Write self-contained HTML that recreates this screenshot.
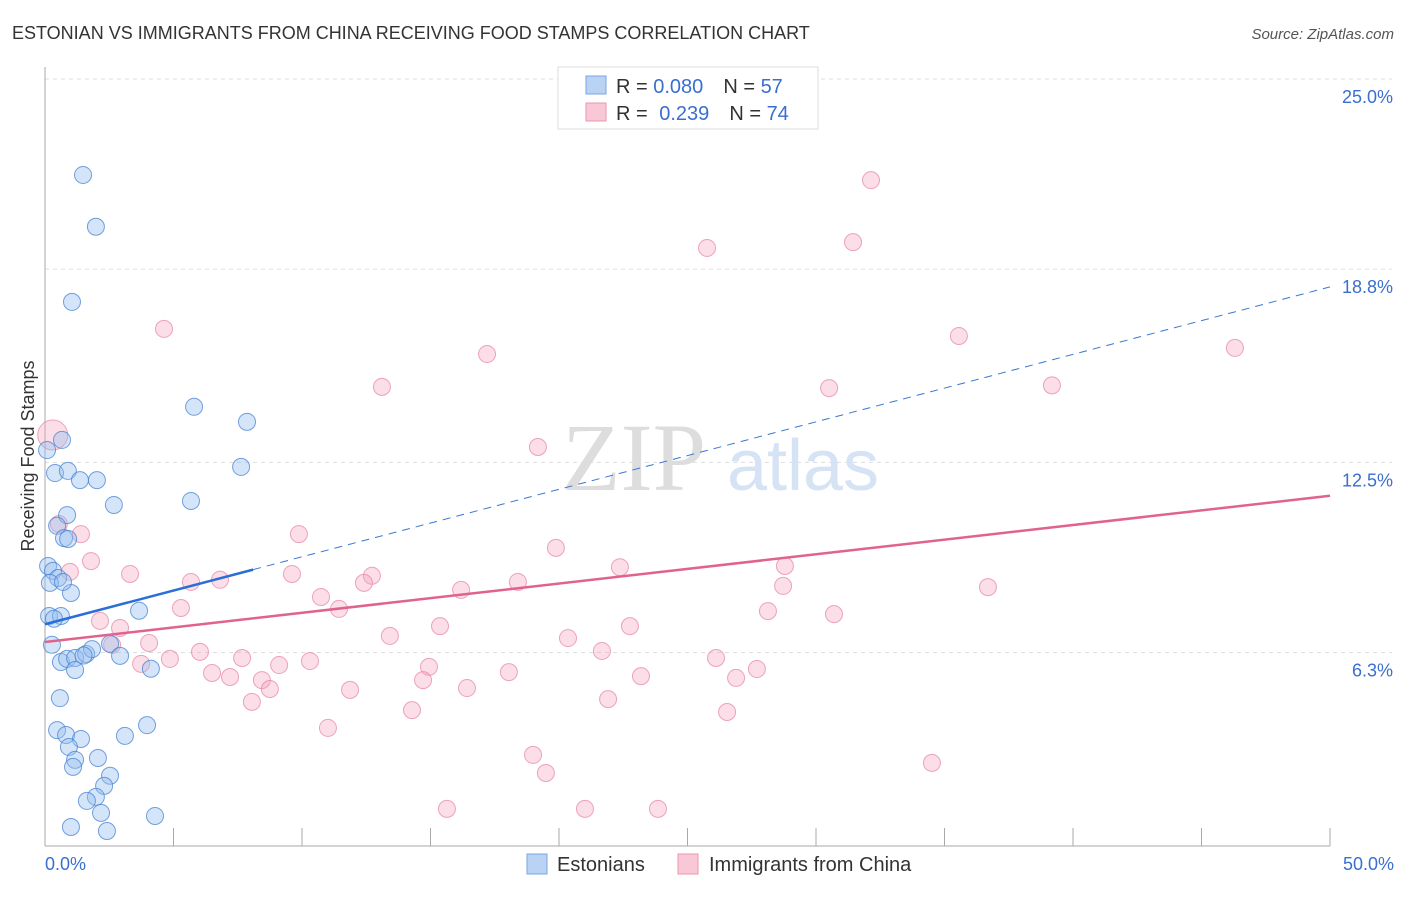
<!DOCTYPE html>
<html><head><meta charset="utf-8"><style>
body{margin:0;background:#fff;font-family:"Liberation Sans",sans-serif;}
svg text{font-family:"Liberation Sans",sans-serif;}
</style></head><body>
<svg id="chart" width="1406" height="892" xmlns="http://www.w3.org/2000/svg">
<text x="12" y="39" font-size="18" fill="#333">ESTONIAN VS IMMIGRANTS FROM CHINA RECEIVING FOOD STAMPS CORRELATION CHART</text>
<text x="1394" y="39" font-size="15" fill="#555" text-anchor="end" font-style="italic">Source: ZipAtlas.com</text>
<g id="grid"></g>
<g>
<text x="634" y="490" font-size="96" fill="#ddd" text-anchor="middle" font-family="Liberation Serif" style="font-family:'Liberation Serif',serif">ZIP</text>
<text x="803" y="490" font-size="72" fill="#d5e3f5" text-anchor="middle">atlas</text>
</g>
<g id="marks"></g>
<text transform="translate(34,456) rotate(-90)" font-size="18" fill="#333" text-anchor="middle">Receiving Food Stamps</text>
<g>
<rect x="558" y="67" width="260" height="62" fill="#fff" stroke="#ddd"/>
<rect x="586" y="76" width="20" height="18" fill="#b9d3f5" stroke="#7aa6e0"/>
<text x="616" y="93" font-size="20" fill="#333">R = <tspan fill="#3a6fd0">0.080</tspan><tspan dx="20">N = </tspan><tspan fill="#3a6fd0">57</tspan></text>
<rect x="586" y="103" width="20" height="18" fill="#f9c8d6" stroke="#e896ae"/>
<text x="616" y="120" font-size="20" fill="#333">R = <tspan dx="6" fill="#3a6fd0">0.239</tspan><tspan dx="20">N = </tspan><tspan fill="#3a6fd0">74</tspan></text>
</g>
<g>
<rect x="527" y="854" width="20" height="20" fill="#b9d3f5" stroke="#7aa6e0"/>
<text x="557" y="871" font-size="20" fill="#333">Estonians</text>
<rect x="678" y="854" width="20" height="20" fill="#f9c8d6" stroke="#e896ae"/>
<text x="709" y="871" font-size="20" fill="#333">Immigrants from China</text>
</g>
</svg>
<script>
const yTicks=[25.0,18.8,12.5,6.3];
const yTickLabels=["25.0%","18.8%","12.5%","6.3%"];
const xTickLabels=["0.0%","50.0%"];
const blueX=[1.48,1.98,1.05,5.80,7.86,7.63,0.66,0.08,0.39,0.89,1.36,2.02,2.68,5.68,0.86,0.47,0.74,0.12,0.31,0.51,0.19,1.01,3.66,0.16,0.62,0.27,0.62,0.86,1.17,1.60,1.83,2.53,2.92,4.12,1.17,0.58,0.47,0.82,1.40,0.93,1.17,1.09,2.06,3.11,3.97,2.53,2.30,1.98,1.63,2.18,1.01,2.41,4.28,0.90,0.70,0.35,1.50];
const blueY=[21.87,20.18,17.73,14.31,13.82,12.35,13.23,12.90,12.15,12.22,11.92,11.92,11.11,11.24,10.78,10.43,10.03,9.12,8.96,8.73,8.57,8.24,7.66,7.49,7.49,6.55,5.99,6.09,6.12,6.25,6.41,6.58,6.19,5.77,5.73,4.81,3.77,3.61,3.48,3.22,2.80,2.57,2.86,3.58,3.93,2.28,1.95,1.59,1.46,1.07,0.61,0.48,0.97,10.00,8.60,7.40,6.20];
const pinkX=[4.63,17.20,13.11,19.18,25.76,31.44,32.14,35.56,46.30,39.18,30.51,9.88,19.88,22.37,28.79,36.69,28.72,30.70,28.13,22.76,15.37,20.35,13.42,16.19,18.40,12.72,12.41,9.61,10.74,11.44,6.81,5.68,5.29,3.31,1.79,1.40,0.97,0.54,2.14,2.92,4.05,2.61,3.74,4.86,6.03,7.67,9.11,10.31,6.50,7.20,8.44,8.75,8.05,11.87,14.94,14.71,16.42,18.05,21.67,23.19,26.11,26.89,27.70,21.91,14.28,11.01,26.54,18.99,19.49,15.64,21.01,23.85,34.51,0.30];
const pinkY=[16.85,16.03,14.96,13.00,19.49,19.68,21.70,16.62,16.23,15.01,14.92,10.16,9.71,9.08,9.12,8.43,8.47,7.55,7.65,7.16,7.16,6.77,6.84,8.34,8.60,8.80,8.57,8.86,8.11,7.72,8.67,8.60,7.75,8.86,9.28,10.16,8.93,10.49,7.33,7.10,6.61,6.55,5.93,6.09,6.32,6.12,5.89,6.02,5.63,5.50,5.40,5.11,4.69,5.08,5.83,5.40,5.14,5.66,6.35,5.53,6.12,5.47,5.76,4.78,4.42,3.84,4.36,2.96,2.37,1.20,1.20,1.20,2.70,13.39];
const blueTrend=[7.22,18.22];
const pinkTrend=[6.64,11.41];
const blueSolidEnd=8.1;

const NS="http://www.w3.org/2000/svg";
const X0=45,X1=1330,Y0=845.7,PPY=30.67;
const sx=v=>X0+(X1-X0)*v/50;
const sy=v=>Y0-v*PPY;
function mk(tag,attrs,parent){const e=document.createElementNS(NS,tag);for(const k in attrs)e.setAttribute(k,attrs[k]);parent.appendChild(e);return e;}
const grid=document.getElementById('grid');
const marks=document.getElementById('marks');
yTicks.forEach((t,i)=>{
  const l=mk('line',{x1:X0,x2:1392,y1:sy(t),y2:sy(t),stroke:'#ddd','stroke-dasharray':'4,4'},grid);
  
  
  const tx=mk('text',{x:1393,y:sy(t)+24,'font-size':18,fill:'#3a6fd0','text-anchor':'end'},grid);
  tx.textContent=yTickLabels[i];
  
  
});
const ax=mk('line',{x1:X0,x2:X0,y1:67,y2:846,stroke:'#aaa'},grid);


const bx=mk('line',{x1:X0,x2:X1,y1:846,y2:846,stroke:'#aaa'},grid);


for(let i=1;i<=10;i++){
  const t=mk('line',{x1:sx(i*5),x2:sx(i*5),y1:828,y2:846,stroke:'#aaa'},grid);
  
  
}
[[0,'start',X0],[50,'end',1394]].forEach((d,i)=>{
  const t=mk('text',{x:d[2],y:870,'font-size':18,fill:'#3a6fd0','text-anchor':d[1]},grid);
  t.textContent=xTickLabels[i];
  
  
});
pinkX.forEach((x,i)=>{
  const r=i===pinkX.length-1?15:8.5;
  const c=mk('circle',{cx:sx(x),cy:sy(pinkY[i]),r:r,fill:'rgba(244,160,185,0.35)',stroke:'rgba(230,130,160,0.7)','stroke-width':1},marks);
  
  
});
blueX.forEach((x,i)=>{
  const c=mk('circle',{cx:sx(x),cy:sy(blueY[i]),r:8.5,fill:'rgba(150,190,240,0.4)',stroke:'rgba(70,130,210,0.75)','stroke-width':1},marks);
  
  
});
const by=x=>blueTrend[0]+(blueTrend[1]-blueTrend[0])*x/50;
const pt=mk('line',{x1:sx(0),y1:sy(pinkTrend[0]),x2:sx(50),y2:sy(pinkTrend[1]),stroke:'#e0628f','stroke-width':2.5},marks);


const bd=mk('line',{x1:sx(blueSolidEnd),y1:sy(by(blueSolidEnd)),x2:sx(50),y2:sy(by(50)),stroke:'#3a78d0','stroke-width':1,'stroke-dasharray':'8,6'},marks);


const bs=mk('line',{x1:sx(0),y1:sy(by(0)),x2:sx(blueSolidEnd),y2:sy(by(blueSolidEnd)),stroke:'#2a6fd6','stroke-width':2.5},marks);


</script>
</body></html>
